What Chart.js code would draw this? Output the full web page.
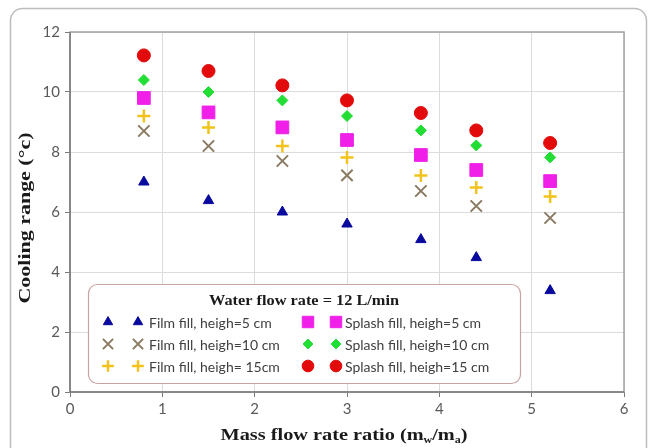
<!DOCTYPE html>
<html>
<head>
<meta charset="utf-8">
<script src="https://cdn.jsdelivr.net/npm/chart.js@4"></script>
<style>
html,body{margin:0;padding:0;background:#fff;}
#wrap{width:649px;height:448px;position:relative;}
</style>
</head>
<body>
<div id="wrap"><canvas id="c" width="649" height="448"></canvas></div>
<script>
const xVals = [0.8, 1.5, 2.3, 3.0, 3.8, 4.4, 5.2];
const film5 = [7.0, 6.38, 6.0, 5.6, 5.08, 4.48, 3.38];
const film10 = [8.7, 8.2, 7.7, 7.22, 6.7, 6.2, 5.8];
const film15 = [9.2, 8.82, 8.2, 7.82, 7.22, 6.82, 6.52];
const splash5 = [9.8, 9.32, 8.82, 8.4, 7.9, 7.4, 7.03];
const splash10 = [10.4, 10.0, 9.72, 9.2, 8.72, 8.22, 7.82];
const splash15 = [11.22, 10.7, 10.22, 9.72, 9.3, 8.72, 8.3];
const seriesLabels = ['Film fill, heigh=5 cm','Film fill, heigh=10 cm','Film fill, heigh= 15cm',
  'Splash fill, heigh=5 cm','Splash fill, heigh=10 cm','Splash fill, heigh=15 cm'];
const legendTitle = 'Water flow rate = 12 L/min';
const xTitle = 'Mass flow rate ratio (m';
const yTitle = 'Cooling range (°c)';

const styles = [
  {pointStyle:'triangle', radius:6, bg:'#0a0a9e', bc:'#0a0a9e', bw:1},
  {pointStyle:'crossRot', radius:8, bg:'#8a7a62', bc:'#8a7a62', bw:2},
  {pointStyle:'cross', radius:6.5, bg:'#f2c31c', bc:'#f2c31c', bw:2.5},
  {pointStyle:'rect', radius:9, bg:'#f020e8', bc:'#f020e8', bw:1},
  {pointStyle:'rectRot', radius:5.5, bg:'#22dd33', bc:'#22dd33', bw:1},
  {pointStyle:'circle', radius:6.5, bg:'#e20a0a', bc:'#e20a0a', bw:1}
];
const allSeries = [film5, film10, film15, splash5, splash10, splash15];

const datasets = allSeries.map((arr,i)=>({
  label: seriesLabels[i],
  data: arr.map((v,j)=>({x:xVals[j], y:v})),
  showLine:false,
  pointStyle: styles[i].pointStyle,
  pointRadius: styles[i].radius,
  pointHoverRadius: styles[i].radius,
  backgroundColor: styles[i].bg,
  borderColor: styles[i].bc,
  borderWidth: styles[i].bw
}));

function fitText(ctx, parts, cx, cy, targetW){
  // parts: [text, font, dy]
  let total=0;
  parts.forEach(p=>{ctx.font=p[1]; total+=ctx.measureText(p[0]).width;});
  const sx = targetW/total;
  ctx.save();
  ctx.translate(cx - targetW/2, cy);
  ctx.scale(sx,1);
  let x=0;
  ctx.textAlign='left';
  ctx.textBaseline='middle';
  parts.forEach(p=>{ctx.font=p[1]; ctx.fillText(p[0],x,p[2]); x+=ctx.measureText(p[0]).width;});
  ctx.restore();
}

const deco = {
  id:'deco',
  beforeDraw(chart){
    const ctx = chart.ctx;
    ctx.save();
    ctx.fillStyle='#fff';
    ctx.fillRect(0,0,chart.width,chart.height);
    ctx.strokeStyle='#bdbdbd';
    ctx.lineWidth=1.5;
    ctx.beginPath();
    ctx.roundRect(10.5,8.5,636,470,12);
    ctx.stroke();
    ctx.restore();
  },
  afterDraw(chart){
    const ctx = chart.ctx;
    const a = chart.chartArea;
    ctx.save();
    ctx.strokeStyle='#a3a3a3';
    ctx.lineWidth=1.5;
    ctx.strokeRect(a.left, a.top, a.right-a.left, a.bottom-a.top);
    ctx.strokeStyle='#7a7a7a';
    ctx.beginPath();
    ctx.moveTo(a.left, a.top); ctx.lineTo(a.left, a.bottom); ctx.lineTo(a.right, a.bottom);
    ctx.stroke();

    ctx.fillStyle='#1a1a1a';
    const mainFont='bold 17px "Liberation Serif", "DejaVu Serif", serif';
    const subFont='bold 10px "Liberation Serif", serif';
    fitText(ctx, [[xTitle,mainFont,0],['w',subFont,4],['/m',mainFont,0],['a',subFont,4],[')',mainFont,0]], 344, 436, 247);
    ctx.save();
    ctx.translate(26, 218);
    ctx.rotate(-Math.PI/2);
    fitText(ctx, [[yTitle,mainFont,0]], 0, 0, 171);
    ctx.restore();

    // legend box
    const lx=88, ly=284, lw=432, lh=99;
    ctx.fillStyle='#fff';
    ctx.strokeStyle='#c9a3a3';
    ctx.lineWidth=1.2;
    ctx.beginPath();
    ctx.roundRect(lx+0.5,ly+0.5,lw,lh,9);
    ctx.fill();
    ctx.stroke();
    ctx.fillStyle='#1a1a1a';
    fitText(ctx, [[legendTitle,'bold 14px "Liberation Serif", serif',0]], 304, 301, 190);
    const rowsY=[322,344,366];
    const cols=[{m1:108,m2:138,t:149},{m1:308,m2:336,t:345}];
    for(let i=0;i<6;i++){
      const c=cols[Math.floor(i/3)];
      const y=rowsY[i%3];
      const s=styles[i];
      const o={pointStyle:s.pointStyle, radius:s.radius*0.9, rotation:0, borderWidth:s.bw};
      ctx.fillStyle=s.bg; ctx.strokeStyle=s.bc; ctx.lineWidth=s.bw;
      Chart.helpers.drawPoint(ctx,o,c.m1,y);
      ctx.fillStyle=s.bg; ctx.strokeStyle=s.bc; ctx.lineWidth=s.bw;
      Chart.helpers.drawPoint(ctx,o,c.m2,y);
      ctx.fillStyle='#404040';
      ctx.font='14px "Lato", "Open Sans", sans-serif';
      ctx.textAlign='left';
      ctx.textBaseline='middle';
      ctx.fillText(seriesLabels[i], c.t, y+1);
    }
    ctx.restore();
  }
};

new Chart(document.getElementById('c'), {
  type:'scatter',
  data:{datasets},
  plugins:[deco],
  options:{
    responsive:false,
    animation:false,
    devicePixelRatio:1,
    layout:{padding:{top:32,right:25,left:0,bottom:0}},
    plugins:{legend:{display:false}, tooltip:{enabled:false}},
    scales:{
      x:{
        type:'linear', min:0, max:6,
        ticks:{stepSize:1, color:'#595959', font:{family:'Lato', size:15}, padding:3},
        grid:{color:'#dcdcdc', lineWidth:1, tickLength:5, tickColor:'#7a7a7a', drawOnChartArea:true},
        border:{display:false},
        afterFit(s){ s.height=56; }
      },
      y:{
        type:'linear', min:0, max:12,
        ticks:{stepSize:2, color:'#595959', font:{family:'Lato', size:15}, padding:5},
        grid:{color:'#dcdcdc', lineWidth:1, tickLength:5, tickColor:'#7a7a7a'},
        border:{display:false},
        afterFit(s){ s.width=70; }
      }
    }
  }
});
</script>
</body>
</html>
